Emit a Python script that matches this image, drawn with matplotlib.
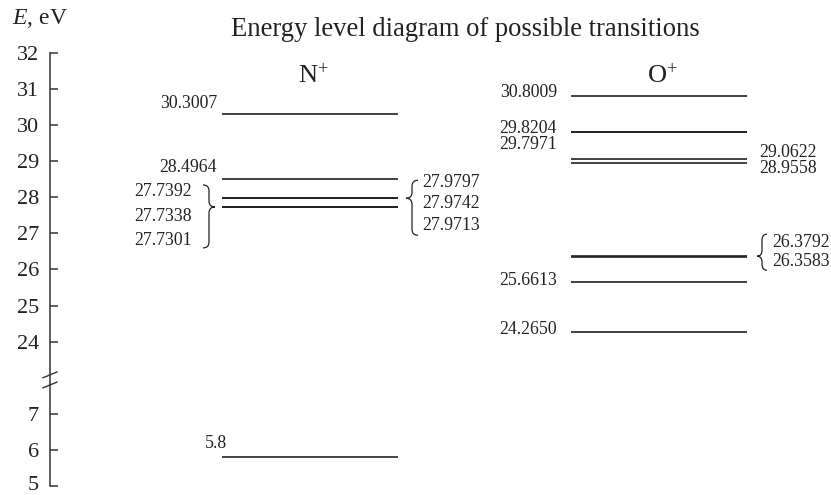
import matplotlib
matplotlib.use('Agg')
import matplotlib.pyplot as plt
import matplotlib.transforms as mtransforms
from matplotlib.path import Path
from matplotlib.patches import PathPatch

plt.rcParams['font.family'] = ['Liberation Serif', 'DejaVu Serif']
plt.rcParams['mathtext.fontset'] = 'custom'
plt.rcParams['mathtext.rm'] = 'Liberation Serif'
plt.rcParams['mathtext.it'] = 'Liberation Serif:italic'

# level energies, eV
n_levels = [30.3007, 28.4964, 27.9797, 27.9742, 27.9713, 27.7392, 27.7338, 27.7301, 5.8]
n_labels = ['30.3007', '28.4964', '27.9797', '27.9742', '27.9713',
            '27.7392', '27.7338', '27.7301', '5.8']
o_levels = [30.8009, 29.8204, 29.7971, 29.0622, 28.9558, 26.3792, 26.3583, 25.6613, 24.2650]
o_labels = ['30.8009', '29.8204', '29.7971', '29.0622', '28.9558',
            '26.3792', '26.3583', '25.6613', '24.2650']

upper_ticks = [24, 25, 26, 27, 28, 29, 30, 31, 32]
lower_ticks = [5, 6, 7]
SHIFT = 15  # lower part of the broken axis is drawn 15 eV higher

# label placement: (alignment, x in px, vertical offset in px)
n_place = [('right', 217, 11), ('right', 217, 12),
           ('left', 422, 16), ('left', 422, -5), ('left', 422, -27),
           ('right', 192, 15), ('right', 192, -10), ('right', 192, -33),
           ('right', 227, 14)]
o_place = [('right', 557, 4), ('right', 557, 3), ('right', 557, -12),
           ('left', 759, 7), ('left', 759, -6),
           ('left', 772, 13), ('left', 772, -5),
           ('right', 557, 1), ('right', 557, 3)]

W, H = 831, 495
PX = 36.083  # pixels per eV
Y0 = 32 + 53 / PX


def ypos(e):
    return e + SHIFT if e < 20 else e


def brace(ax, x, e, up, down, w, side):
    # curly brace with its tip at the level e, sizes in pixels
    s = side
    r = 6
    verts = [(0, up), (s * w / 2, up), (s * w / 2, up - r),
             (s * w / 2, r), (s * w / 2, 0), (s * w, 0),
             (s * w / 2, 0), (s * w / 2, -r),
             (s * w / 2, -down + r), (s * w / 2, -down), (0, -down)]
    codes = [Path.MOVETO, Path.CURVE3, Path.CURVE3,
             Path.LINETO, Path.CURVE3, Path.CURVE3,
             Path.CURVE3, Path.CURVE3,
             Path.LINETO, Path.CURVE3, Path.CURVE3]
    tr = mtransforms.ScaledTranslation(x, ypos(e), ax.transData)
    ax.add_patch(PathPatch(Path(verts, codes), transform=tr, fill=False,
                           lw=0.9, edgecolor='#222222', clip_on=False))


fig = plt.figure(figsize=(W / 100, H / 100), dpi=100)
ax = fig.add_axes([50 / W, 0, 1 - 50 / W, 1])
ax.set_xlim(50, W)
ax.set_ylim(Y0 - H / PX, Y0)

for s in ['top', 'right', 'bottom']:
    ax.spines[s].set_visible(False)
ax.spines['left'].set_bounds(20, 32)
ax.spines['left'].set_linewidth(1.1)
ax.spines['left'].set_color('#333333')
ticks = lower_ticks + upper_ticks
ax.set_yticks([ypos(t) for t in ticks])
ax.set_yticklabels([str(t) for t in ticks])
ax.set_xticks([])
ax.tick_params(axis='y', direction='in', length=5.8, width=1.1, pad=8,
               labelsize=16, color='#333333', labelcolor='#222222')
# keep the bottom label inside the picture
lab5 = ax.get_yticklabels()[0]
lab5.set_transform(lab5.get_transform() + mtransforms.Affine2D().translate(0, 3))

# axis break marks
for yb in [23.08, 22.80]:
    ax.plot([43, 57], [yb - 0.08, yb + 0.08], color='#333333', lw=1.0, clip_on=False)

# levels
ax.hlines([ypos(e) for e in n_levels], 222, 398, color='#222222', lw=1.2)
ax.hlines([ypos(e) for e in o_levels], 571, 747, color='#222222', lw=1.2)

for e, lab, (ha, x, dy) in zip(n_levels + o_levels, n_labels + o_labels, n_place + o_place):
    ax.annotate(lab, xy=(x, ypos(e)), xytext=(0, dy), textcoords='offset pixels',
                ha=ha, va='center', fontsize=12.8, color='#222222')

brace(ax, 203, 27.7338, 22, 41, 12, 1)
brace(ax, 418, 27.9742, 18, 37, 12, -1)
brace(ax, 767, 26.3687, 22, 14, 10, -1)

fig.text(12 / W, 1 - 18 / H, '$E$, eV', ha='left', va='center', fontsize=17, color='#222222')
fig.text(465 / W, 1 - 36 / H, 'Energy level diagram of possible transitions',
         ha='center', va='baseline', fontsize=19.2, color='#222222')
fig.text(313 / W, 1 - 83 / H, 'N$^{+}$', ha='center', va='baseline', fontsize=19, color='#222222')
fig.text(662 / W, 1 - 83 / H, 'O$^{+}$', ha='center', va='baseline', fontsize=19, color='#222222')

fig.savefig('out.png', dpi=100)
